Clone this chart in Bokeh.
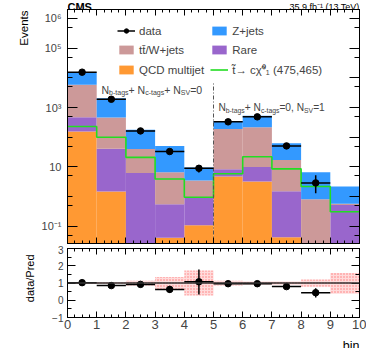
import math
from bokeh.plotting import figure
from bokeh.layouts import column, row
from bokeh.core.properties import value
from bokeh.models import (ColumnDataSource, FixedTicker, LogAxis, LinearAxis,
                          Legend, LegendItem, Label, Span, Range1d)
from bokeh.embed import file_html
from bokeh.resources import INLINE

FONT = "Liberation Sans"

# ---------------- data ----------------
bin_edges = [0, 1, 2, 3, 4, 5, 6, 7, 8, 9, 10]
qcd    = [155, 1.48, 0.0, 0.04, 0.107, 4.8, 3.2, 0.042, 0.0, 0.0]
rare   = [315, 39.5, 6.2, 0.51, 0.84, 3.5, 6.8, 1.46, 0.0, 0.52]
ttw    = [5330, 419, 33.8, 6.05, 2.55, 181.7, 208, 15.5, 0.81, 0.06]
zjets  = [9200, 1590, 138, 44.4, 6.0, 165, 307, 46, 5.8, 1.62]
signal = [230, 100, 21, 3.9, 0.95, 5.9, 22, 8.6, 2.2, 0.31]
data        = [15500, 1900, 163, 33, 9, 330, 485, 51, 2.9, 0]
data_err_lo = [124, 44, 13, 5.7, 2.5, 18, 22, 7, 1.6, 0]
data_err_hi = [124, 44, 13, 5.7, 2.5, 18, 22, 7, 2.3, 0]
ratio        = [1.02, 0.85, 0.92, 0.63, 1.07, 0.96, 0.96, 0.79, 0.44, None]
ratio_err_lo = [0.02, 0.03, 0.07, 0.19, 0.73, 0.05, 0.05, 0.11, 0.28, 0]
ratio_err_hi = [0.02, 0.03, 0.07, 0.19, 0.71, 0.05, 0.05, 0.11, 0.25, 0]
band_lo = [0.95, 0.95, 0.85, 0.65, 0.27, 0.85, 0.90, 0.90, 0.78, 0.38]
band_hi = [1.05, 1.05, 1.13, 1.35, 1.73, 1.13, 1.08, 1.08, 1.20, 1.58]
separator_x = 5
separator_top = 6500
x_ticks = list(range(0, 11))
x_minor = [i * 0.25 for i in range(41) if i % 4]
y_labeled = [0.1, 10.0, 1000.0, 100000.0, 1000000.0]
y_unlabeled = [0.01, 1.0, 100.0, 10000.0]
y_fives = [5 * 10.0 ** k for k in range(-2, 6)]
y_labels = {0.1: "10\u207b\u00b9", 10.0: "10", 1000.0: "10\u00b3",
            100000.0: "10\u2075", 1000000.0: "10\u2076"}
ratio_ticks = [-1, 0, 1, 2, 3]
ratio_minor = [-0.5, 0.5, 1.5, 2.5]

C_Z = "#3399ff"
C_TT = "#cc9999"
C_RARE = "#9966cc"
C_QCD = "#ff9933"
C_SIG = "#22dd22"

# ---------------- derived ----------------
lo = bin_edges[:-1]
hi = bin_edges[1:]
cen = [(a + b) / 2 for a, b in zip(lo, hi)]
floor = 1e-3
c1 = [floor + v for v in qcd]
c2 = [a + v for a, v in zip(c1, rare)]
c3 = [a + v for a, v in zip(c2, ttw)]
c4 = [a + v for a, v in zip(c3, zjets)]
base = [floor] * len(lo)

y_lo, y_hi = 0.0264, 2.0e6
W_FIG = 366
STRIP = 36
B_LEFT, B_RIGHT = 67, 7
H_HEAD, H_MAIN, H_RATIO, H_FOOT = 13, 236, 88, 15


def tick_only_axis(cls, minor, length):
    # axis drawing only inward tick marks (no labels)
    return cls(ticker=FixedTicker(ticks=[], minor_ticks=minor),
               major_label_standoff=0, axis_label_standoff=0,
               major_tick_in=0, major_tick_out=0,
               minor_tick_in=length, minor_tick_out=0,
               axis_line_color="black")


def blank(width, height, xr, yr, left=0, right=0):
    f = figure(width=width, height=height, x_range=xr, y_range=yr,
               output_backend="svg", toolbar_location=None,
               x_axis_location=None, y_axis_location=None,
               min_border_left=left, min_border_right=right, min_border_top=0, min_border_bottom=0)
    f.grid.visible = False
    f.outline_line_color = None
    return f


xr = Range1d(0, 10)

# ---------------- header strip (CMS / lumi) ----------------
p0 = blank(W_FIG, H_HEAD, xr, Range1d(0, H_HEAD), B_LEFT, B_RIGHT)
p0.text(x=[0], y=[2.5], text=["CMS"], text_font=value(FONT), text_font_style="bold",
        text_font_size="11px", text_baseline="alphabetic", text_align="left")
p0.text(x=[10], y=[2.5], text=["35.9 fb\u207b\u00b9 (13 TeV)"], text_font=value(FONT),
        text_font_size="9px", text_baseline="alphabetic", text_align="right")

# ---------------- side strips with the y titles ----------------
s1 = blank(STRIP, H_MAIN, Range1d(0, STRIP), Range1d(0, H_MAIN))
s1.text(x=[23], y=[H_MAIN - 1], text=["Events"], angle=math.pi / 2, text_font=value(FONT),
        text_font_size="11.5px", text_align="right", text_baseline="middle")
s2 = blank(STRIP, H_RATIO, Range1d(0, STRIP), Range1d(0, H_RATIO))
s2.text(x=[29], y=[50], text=["data/Pred"], angle=math.pi / 2, text_font=value(FONT),
        text_font_size="11px", text_align="center", text_baseline="middle")

# ---------------- main panel ----------------
p1 = figure(width=W_FIG - STRIP, height=H_MAIN, x_range=xr, y_range=Range1d(y_lo, y_hi),
            y_axis_type="log", output_backend="svg", toolbar_location=None,
            x_axis_location=None, y_axis_location=None,
            min_border_left=B_LEFT - STRIP, min_border_right=B_RIGHT,
            min_border_top=0, min_border_bottom=2)
p1.grid.visible = False
p1.outline_line_color = "black"

r_qcd = p1.quad(left=lo, right=hi, bottom=base, top=c1, fill_color=C_QCD, line_color=None)
r_rare = p1.quad(left=lo, right=hi, bottom=c1, top=c2, fill_color=C_RARE, line_color=None)
r_tt = p1.quad(left=lo, right=hi, bottom=c2, top=c3, fill_color=C_TT, line_color=None)
r_z = p1.quad(left=lo, right=hi, bottom=c3, top=c4, fill_color=C_Z, line_color=None)

r_sig = p1.step(x=bin_edges, y=signal + [signal[-1]], mode="after", line_color=C_SIG, line_width=1.6)

p1.segment(x0=[separator_x], y0=[y_lo], x1=[separator_x], y1=[separator_top],
           line_color="#555555", line_dash="4 2 1 2", line_width=1)

idx = [i for i, d in enumerate(data) if d > 0]
dsrc = ColumnDataSource(dict(
    l=[lo[i] for i in idx], r=[hi[i] for i in idx], c=[cen[i] for i in idx],
    y=[data[i] for i in idx],
    ylo=[data[i] - data_err_lo[i] for i in idx],
    yhi=[data[i] + data_err_hi[i] for i in idx]))
r_dh = p1.segment(x0="l", y0="y", x1="r", y1="y", source=dsrc, line_color="black", line_width=1.5)
p1.segment(x0="c", y0="ylo", x1="c", y1="yhi", source=dsrc, line_color="black", line_width=1.5)
r_dp = p1.scatter(x="c", y="y", source=dsrc, size=6.5, color="black")

ax_l = LogAxis(ticker=FixedTicker(ticks=y_labeled, minor_ticks=y_unlabeled + y_fives),
               major_label_overrides=y_labels, major_label_text_font=FONT,
               major_label_text_font_size="11px", major_label_standoff=6,
               major_tick_in=10, major_tick_out=0, minor_tick_in=5, minor_tick_out=0,
               axis_line_color="black")
p1.add_layout(ax_l, "left")
p1.add_layout(tick_only_axis(LogAxis, y_labeled + y_unlabeled, 10), "right")
p1.add_layout(tick_only_axis(LogAxis, y_fives, 5), "right")
p1.add_layout(tick_only_axis(LinearAxis, x_ticks, 6), "below")
p1.add_layout(tick_only_axis(LinearAxis, x_minor, 3), "below")
p1.add_layout(tick_only_axis(LinearAxis, x_ticks, 6), "above")
p1.add_layout(tick_only_axis(LinearAxis, x_minor, 3), "above")

legend = Legend(items=[
    LegendItem(label="data", renderers=[r_dh, r_dp]),
    LegendItem(label="tt\u0304/W+jets", renderers=[r_tt]),
    LegendItem(label="QCD multijet", renderers=[r_qcd]),
    LegendItem(label="Z+jets", renderers=[r_z]),
    LegendItem(label="Rare", renderers=[r_rare]),
    LegendItem(label="t\u0303\u2192 c\u03c7\u0303\u2070\u2081 (475,465)", renderers=[r_sig]),
], location=(50, 166), orientation="vertical", nrows=3,
    background_fill_alpha=0, border_line_alpha=0,
    label_text_font=FONT, label_text_font_size="11.5px",
    glyph_width=18, glyph_height=11, label_height=13, label_standoff=4,
    spacing=6, padding=0, margin=0)
p1.add_layout(legend)

W = {'N': 722, 'b': 556, '-': 333, 't': 278, 'a': 556, 'g': 556, 's': 500, '+': 584, ' ': 278,
     'c': 500, 'S': 667, 'V': 667, '=': 584, '0': 556, '1': 556, ',': 278}


def tw(s, size):
    return sum(W.get(ch, 556) for ch in s) * size / 1000.0


def rich(p, x, y, parts, size=10.5, sub=7):
    off = 0.0
    for t, is_sub in parts:
        fs = sub if is_sub else size
        p.add_layout(Label(x=x, y=y, x_offset=off, y_offset=-3 if is_sub else 0, text=t,
                           text_font=FONT, text_font_size=f"{fs}px", text_baseline="alphabetic"))
        off += tw(t, fs)


rich(p1, 1.164, 4040, [("N", False), ("b-tags", True), ("+ N", False), ("c-tags", True),
                       ("+ N", False), ("SV", True), ("=0", False)])
rich(p1, 5.17, 1000, [("N", False), ("b-tags", True), ("+ N", False), ("c-tags", True),
                      ("=0, N", False), ("SV", True), ("=1", False)], size=10.2, sub=6.8)

# ---------------- ratio panel ----------------
p2 = figure(width=W_FIG - STRIP, height=H_RATIO, x_range=xr, y_range=Range1d(-1, 3),
            output_backend="svg", toolbar_location=None,
            x_axis_location=None, y_axis_location=None,
            min_border_left=B_LEFT - STRIP, min_border_right=B_RIGHT,
            min_border_top=3, min_border_bottom=16)
p2.grid.visible = False
p2.outline_line_color = "black"

p2.quad(left=lo, right=hi, bottom=band_lo, top=band_hi, fill_color="#ffcccc", fill_alpha=0.7,
        hatch_pattern="dot", hatch_color="#ff3333", hatch_alpha=0.6, hatch_scale=3, line_color=None)
p2.add_layout(Span(location=1, dimension="width", line_color="#333333", line_width=1.5))

ridx = [i for i, r in enumerate(ratio) if r is not None]
rsrc = ColumnDataSource(dict(
    l=[lo[i] for i in ridx], r=[hi[i] for i in ridx], c=[cen[i] for i in ridx],
    y=[ratio[i] for i in ridx],
    ylo=[ratio[i] - ratio_err_lo[i] for i in ridx],
    yhi=[ratio[i] + ratio_err_hi[i] for i in ridx]))
p2.segment(x0="l", y0="y", x1="r", y1="y", source=rsrc, line_color="black", line_width=1.5)
p2.segment(x0="c", y0="ylo", x1="c", y1="yhi", source=rsrc, line_color="black", line_width=1.5)
p2.scatter(x="c", y="y", source=rsrc, size=6.5, color="black")

p2.add_layout(LinearAxis(ticker=FixedTicker(ticks=ratio_ticks, minor_ticks=ratio_minor),
                         major_label_text_font=FONT, major_label_text_font_size="10px",
                         major_label_standoff=4, major_tick_in=8, major_tick_out=0,
                         minor_tick_in=4, minor_tick_out=0, axis_line_color="black"), "left")
p2.add_layout(LinearAxis(ticker=FixedTicker(ticks=x_ticks, minor_ticks=x_minor),
                         major_label_text_font=FONT, major_label_text_font_size="13px",
                         major_label_standoff=2, major_tick_in=6, major_tick_out=0,
                         minor_tick_in=3, minor_tick_out=0, axis_line_color="black"), "below")
p2.add_layout(tick_only_axis(LinearAxis, ratio_ticks, 8), "right")
p2.add_layout(tick_only_axis(LinearAxis, ratio_minor, 4), "right")
p2.add_layout(tick_only_axis(LinearAxis, x_ticks, 6), "above")
p2.add_layout(tick_only_axis(LinearAxis, x_minor, 3), "above")

# ---------------- footer with the x title ----------------
p3 = blank(W_FIG, H_FOOT, xr, Range1d(0, H_FOOT), B_LEFT, B_RIGHT)
p3.text(x=[10], y=[2.9], text=["bin"], text_font=value(FONT), text_font_size="12.5px",
        text_baseline="alphabetic", text_align="right")

layout = column(p0, row(s1, p1, spacing=0), row(s2, p2, spacing=0), p3,
                spacing=0, margin=(-4, 0, 0, 0))
open("out.html", "w").write(file_html(layout, INLINE))
